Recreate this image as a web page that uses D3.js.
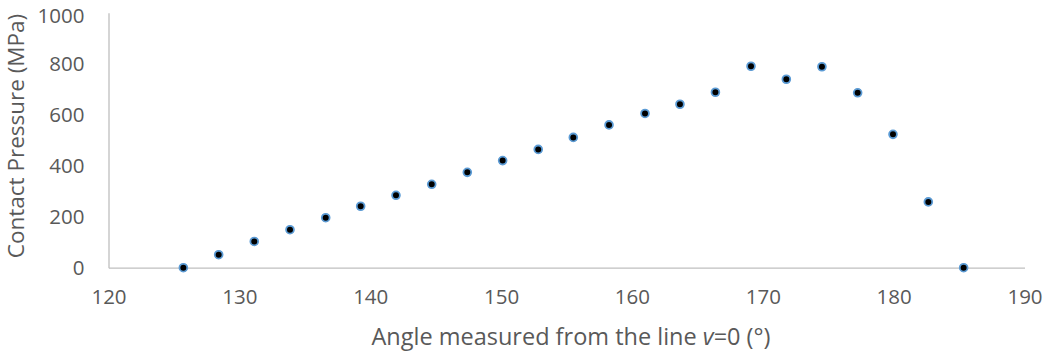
<!DOCTYPE html>
<html>
<head>
<meta charset="utf-8">
<script src="https://cdn.jsdelivr.net/npm/d3@7"></script>
<style>
  html, body { margin: 0; padding: 0; background: #fff; }
  svg { display: block; }
  text { font-family: "Open Sans", sans-serif; fill: #595959; }
</style>
</head>
<body>
<svg id="chart" width="1047" height="352"></svg>
<script>
// Contact pressure against angle measured from the line v=0
const angles = [125.72, 128.42, 131.14, 133.87, 136.60, 139.27, 141.97, 144.70,
                147.42, 150.12, 152.84, 155.52, 158.25, 161.00, 163.67, 166.38,
                169.10, 171.80, 174.52, 177.25, 179.95, 182.65, 185.35];
const pressures = [0, 51, 103, 149, 196, 241, 284, 327,
                   374, 420, 464, 511, 560, 605, 641, 688,
                   790, 739, 788, 686, 523, 258, 0];
const xTicks = [120, 130, 140, 150, 160, 170, 180, 190];
const yTicks = [0, 200, 400, 600, 800, 1000];
const xTitle = ["Angle measured from the line ", "v", "=0 (°)"];
const yTitle = "Contact Pressure (MPa)";

const svg = d3.select("#chart");
const plot = { left: 108.5, right: 1024.5, top: 12.7, bottom: 267.7 };

const x = d3.scaleLinear().domain([120, 190]).range([plot.left, plot.right]);
const y = d3.scaleLinear().domain([0, 1000]).range([plot.bottom, plot.top]);

// X axis
const xAxis = svg.append("g")
  .attr("transform", `translate(0,${plot.bottom})`)
  .call(d3.axisBottom(x).tickValues(xTicks).tickSize(0).tickPadding(22).tickFormat(d3.format("d")));
xAxis.select(".domain").attr("stroke", "#BFBFBF").attr("stroke-width", 1.3);
xAxis.selectAll("text").attr("font-size", 20.5).attr("fill", "#595959")
  .attr("font-family", "Open Sans, sans-serif");

// Y axis
const yAxis = svg.append("g")
  .attr("transform", `translate(${plot.left},0)`)
  .call(d3.axisLeft(y).tickValues(yTicks).tickSize(0).tickPadding(24).tickFormat(d3.format("d")));
yAxis.select(".domain").attr("stroke", "#BFBFBF").attr("stroke-width", 1.3);
yAxis.selectAll("text").attr("font-size", 20.5).attr("fill", "#595959")
  .attr("font-family", "Open Sans, sans-serif");
// keep the topmost label inside the canvas
yAxis.selectAll(".tick").filter(d => d === 1000).select("text").attr("dy", "0.47em");

// Axis titles
const xt = svg.append("text")
  .attr("x", 571)
  .attr("y", 345)
  .attr("text-anchor", "middle")
  .attr("font-size", 23.5);
xt.append("tspan").text(xTitle[0]);
xt.append("tspan").attr("font-style", "italic").text(xTitle[1]);
xt.append("tspan").text(xTitle[2]);

svg.append("text")
  .attr("transform", `translate(24,136) rotate(-90)`)
  .attr("text-anchor", "middle")
  .attr("font-size", 22.5)
  .text(yTitle);

// Points
svg.append("g").selectAll("circle")
  .data(angles.map((a, i) => ({ a, p: pressures[i] })))
  .join("circle")
  .attr("cx", d => x(d.a))
  .attr("cy", d => y(d.p))
  .attr("r", 3.9)
  .attr("fill", "#000")
  .attr("stroke", "#5B9BD5")
  .attr("stroke-width", 1.8);
</script>
</body>
</html>
